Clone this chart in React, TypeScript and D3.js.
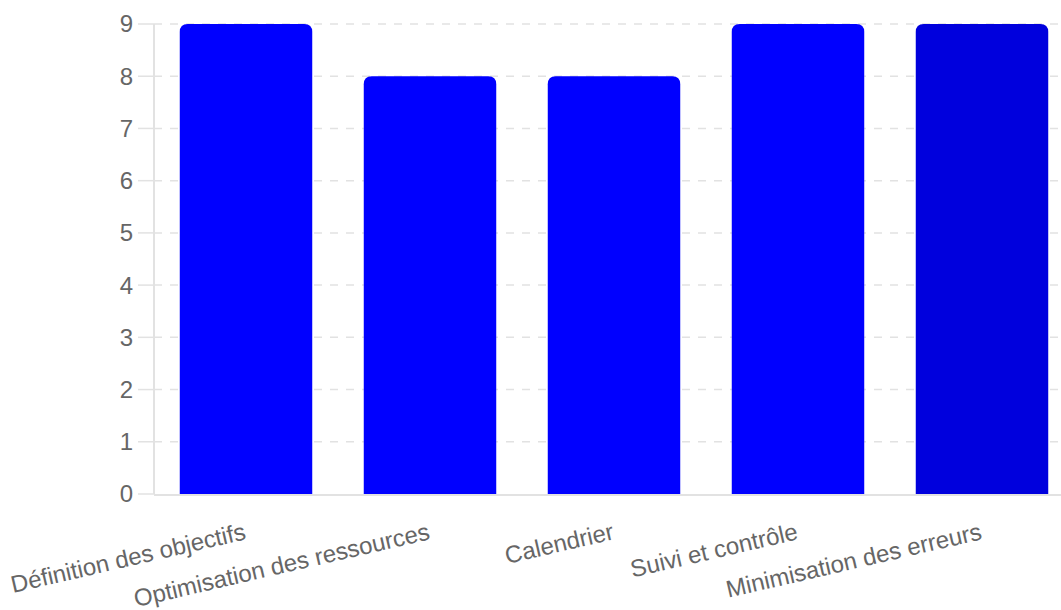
import React from "react";
import * as d3 from "d3";

const categories = [
  "Définition des objectifs",
  "Optimisation des ressources",
  "Calendrier",
  "Suivi et contrôle",
  "Minimisation des erreurs",
];
const values = [9, 8, 8, 9, 9];
const barColors = ["#0000ff", "#0000ff", "#0000ff", "#0000ff", "#0000dd"];
const yTicks = [0, 1, 2, 3, 4, 5, 6, 7, 8, 9];

const W = 1061;
const H = 610;
const FONT = "'Helvetica Neue', Helvetica, Arial, 'Liberation Sans', sans-serif";

function barPath(x: number, y: number, w: number, h: number, r: number) {
  const rr = Math.min(r, w / 2, h);
  return `M${x},${y + h}V${y + rr}Q${x},${y} ${x + rr},${y}H${x + w - rr}Q${x + w},${y} ${x + w},${y + rr}V${y + h}Z`;
}

export default function App() {
  const left = 154;
  const right = 1074;
  const top = 24;
  const bottom = 494;

  const x = d3.scaleBand<string>().domain(categories).range([left, right]).padding(0);
  const y = d3.scaleLinear().domain([0, 9]).range([bottom, top]);
  const bw = x.bandwidth() * 0.72;

  return (
    <svg
      width={W}
      height={H}
      style={{ position: "absolute", left: 0, top: 0, background: "#fff" }}
      fontFamily={FONT}
    >
      {/* grid lines */}
      {yTicks.map((t) => (
        <g key={"g" + t}>
          {t !== 0 && (
            <line
              x1={left}
              x2={W}
              y1={y(t)}
              y2={y(t)}
              stroke="#e2e2e2"
              strokeWidth={1.5}
              strokeDasharray="8,8"
            />
          )}
          <line x1={left - 16} x2={left} y1={y(t)} y2={y(t)} stroke="#e2e2e2" strokeWidth={1.5} />
          <text
            x={left - 21}
            y={y(t)}
            dy="0.35em"
            textAnchor="end"
            fontSize={24}
            fill="#666"
          >
            {t}
          </text>
        </g>
      ))}
      {/* axes */}
      <line x1={left} x2={left} y1={top} y2={bottom} stroke="#e2e2e2" strokeWidth={2} />
      <line x1={left} x2={W} y1={bottom + 1} y2={bottom + 1} stroke="#e2e2e2" strokeWidth={2} />
      {/* bars */}
      {categories.map((c, i) => {
        const cx = (x(c) as number) + x.bandwidth() / 2;
        const y0 = y(values[i]);
        return (
          <path
            key={c}
            d={barPath(cx - bw / 2, y0, bw, y(0) - y0, 8)}
            fill={barColors[i]}
          />
        );
      })}
      {/* x labels */}
      {categories.map((c) => {
        const cx = (x(c) as number) + x.bandwidth() / 2;
        return (
          <text
            key={"l" + c}
            transform={`translate(${cx + 1},539) rotate(-13)`}
            textAnchor="end"
            fontSize={24}
            fill="#666"
          >
            {c}
          </text>
        );
      })}
    </svg>
  );
}
